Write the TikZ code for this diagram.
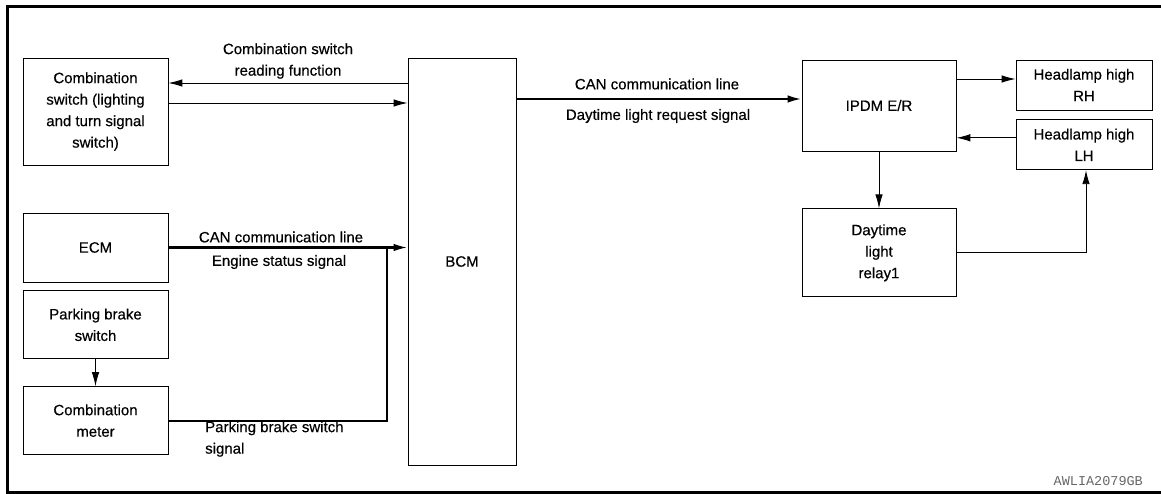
\documentclass[tikz,border=0pt]{standalone}
\usepackage{fontspec}
\setmainfont{Liberation Sans}[FakeBold=0.4]
\setmonofont{Liberation Mono}
\usetikzlibrary{arrows.meta,positioning}

\begin{document}
\begin{tikzpicture}[
  x=1pt,y=1pt,
  font=\fontsize{15}{21.5}\selectfont,
  unit/.style={draw,line width=0.8pt,align=center,inner sep=2pt},
  sig/.style={line width=0.9pt,-{Latex[length=14pt,width=7.5pt]}},
  bus/.style={line width=2.2pt},
  txt/.style={align=center,inner sep=0pt},
]
\useasboundingbox (0,0) rectangle (1161,-494);
\draw[line width=3pt] (1175,-6.5) -- (7.5,-6.5) -- (7.5,-492) -- (1175,-492);

\node[unit,minimum width=145pt,minimum height=107pt] (csw) at (95.5,-111.5) {Combination\\switch (lighting\\and turn signal\\switch)};
\node[unit,minimum width=145pt,minimum height=69pt] (ecm) at (95.5,-247.5) {ECM};
\node[unit,minimum width=145pt,minimum height=68pt,below=8pt of ecm] (pbs) {Parking brake\\switch};
\node[unit,minimum width=145pt,minimum height=68pt,below=27pt of pbs] (cmeter) {Combination\\meter};
\node[unit,minimum width=108pt,minimum height=407pt] (bcm) at (462,-261.5) {BCM};
\node[unit,minimum width=154pt,minimum height=91pt] (ipdm) at (879,-105.5) {IPDM E/R};
\node[unit,minimum width=154pt,minimum height=88pt,below=57pt of ipdm] (drl) {Daytime\\light\\relay1};
\node[unit,minimum width=136pt,minimum height=50pt] (rh) at (1084,-85) {Headlamp high\\RH};
\node[unit,minimum width=136pt,minimum height=50pt,below=9pt of rh] (lh) {Headlamp high\\LH};

\draw[sig] ([yshift=28.5pt]csw.east -| bcm.west) -- ([yshift=28.5pt]csw.east);
\draw[sig] ([yshift=8.5pt]csw.east) -- ([yshift=8.5pt]csw.east -| bcm.west);
\draw[sig,bus] (ecm.east) -- (ecm.east -| bcm.west);
\coordinate (jn) at ([xshift=-21pt]ecm.east -| bcm.west);
\draw[bus] (cmeter.east) -| (jn);
\draw[sig] (pbs) -- (cmeter);
\draw[sig,bus] ([yshift=6.5pt]ipdm.west -| bcm.east) -- ([yshift=6.5pt]ipdm.west);
\draw[sig] ([yshift=6pt]rh.west -| ipdm.east) -- ([yshift=6pt]rh.west);
\draw[sig] ([yshift=7pt]lh.west) -- ([yshift=7pt]lh.west -| ipdm.east);
\draw[sig] (ipdm) -- (drl);
\draw[sig] (drl.east) -| ([xshift=2pt]lh.south);

\node[txt] (lblread) at (288,-61) {Combination switch\\reading function};
\node[txt] (lblcan1) at (281,-237) {CAN communication line};
\node[txt] (lblengine) at (279,-262) {Engine status signal};
\node[txt,align=left,anchor=west] (lblpark) at (205,-439) {Parking brake switch\\signal};
\node[txt] (lblcan2) at (657,-84) {CAN communication line};
\node[txt] (lbldrl) at (658,-116) {Daytime light request signal};
\node[font=\ttfamily\fontsize{13.5}{13.5}\selectfont,text=black!60,inner sep=0pt,anchor=south east] (code) at (1143,-486) {AWLIA2079GB};
\end{tikzpicture}
\end{document}
